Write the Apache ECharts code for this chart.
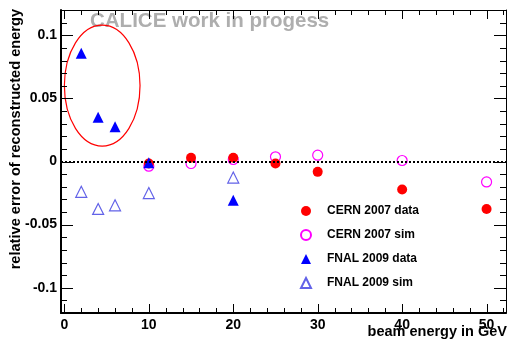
<!DOCTYPE html>
<html>
<head>
<meta charset="utf-8">
<script src="https://cdn.jsdelivr.net/npm/echarts@6/dist/echarts.min.js"></script>
<style>
  html, body { margin: 0; padding: 0; background: #fff; }
  #chart { width: 507px; height: 343px; }
</style>
</head>
<body>
<div id="chart"></div>
<script>
// beam energies (GeV)
var cernEnergy = [10, 15, 20, 25, 30, 40, 50];
var fnalEnergy = [2, 4, 6, 10, 20];

// relative error of reconstructed energy
var cernData = [-0.0016, 0.003, 0.003, -0.0016, -0.0082, -0.0222, -0.0376];
var cernSim = [-0.0037, -0.0016, 0.0016, 0.0037, 0.005, 0.0008, -0.0162];
var fnalData = [0.0857, 0.035, 0.0275, -0.001, -0.0307];
var fnalSim = [-0.024, -0.0376, -0.0347, -0.025, -0.0127];

// axis ranges, tick positions
var xRange = [-0.4, 52.3];
var yRange = [-0.12, 0.12];
var xMajor = [0, 10, 20, 30, 40, 50];
var xMinor = [2, 4, 6, 8, 12, 14, 16, 18, 22, 24, 26, 28, 32, 34, 36, 38, 42, 44, 46, 48, 52];
var yMajor = [-0.1, -0.05, 0, 0.05, 0.1];
var yMinor = [-0.12, -0.11, -0.09, -0.08, -0.07, -0.06, -0.04, -0.03, -0.02, -0.01,
              0.01, 0.02, 0.03, 0.04, 0.06, 0.07, 0.08, 0.09, 0.11, 0.12];

// highlighted region (data units): x0, x1, y0, y1
var ellipseBox = [0.0, 8.96, 0.0122, 0.108];

var names = ["CERN 2007 data", "CERN 2007 sim", "FNAL 2009 data", "FNAL 2009 sim"];

var FONT = "Liberation Sans, Arial, Helvetica, sans-serif";
var W = 507, H = 343;
var PLOT = { left: 61, right: 506, top: 10, bottom: 313 };

function pairs(xs, ys) {
  var out = [];
  for (var i = 0; i < xs.length; i++) out.push([xs[i], ys[i]]);
  return out;
}

// pixel of a value on the main frame (only used to line up the label grids)
function px(x) {
  return PLOT.left + (x - xRange[0]) / (xRange[1] - xRange[0]) * (PLOT.right - PLOT.left);
}
function py(y) {
  return PLOT.bottom - (y - yRange[0]) / (yRange[1] - yRange[0]) * (PLOT.bottom - PLOT.top);
}

var labelStyle = { color: "#000", fontFamily: FONT, fontWeight: "bold", fontSize: 14 };

function frameAxis(pos, range, lineW) {
  return {
    type: "value", gridIndex: 0, position: pos, min: range[0], max: range[1],
    axisLine: { show: true, onZero: false, lineStyle: { color: "#000", width: lineW } },
    axisTick: { show: false }, axisLabel: { show: false }, splitLine: { show: false }
  };
}
function labelAxis(grid, pos, ticks, margin) {
  return {
    type: "value", gridIndex: grid, position: pos,
    min: ticks[0], max: ticks[ticks.length - 1], interval: ticks[1] - ticks[0],
    axisLine: { show: false, onZero: false }, axisTick: { show: false },
    axisLabel: Object.assign({ show: true, margin: margin }, labelStyle),
    splitLine: { show: false }
  };
}
function hiddenAxis(grid) {
  return { type: "value", gridIndex: grid, show: false, min: 0, max: 1, axisLine: { onZero: false } };
}

var chart = echarts.init(document.getElementById("chart"));

var option = {
  animation: false,
  backgroundColor: "#fff",
  grid: [
    { left: PLOT.left, right: W - PLOT.right, top: PLOT.top, bottom: H - PLOT.bottom },
    { left: px(xMajor[0]), right: W - px(xMajor[xMajor.length - 1]), top: PLOT.top, bottom: H - PLOT.bottom },
    { left: PLOT.left, right: W - PLOT.right, top: py(yMajor[yMajor.length - 1]), bottom: H - py(yMajor[0]) }
  ],
  xAxis: [
    frameAxis("bottom", xRange, 2),
    frameAxis("top", xRange, 1),
    labelAxis(1, "bottom", xMajor, 5),
    hiddenAxis(2)
  ],
  yAxis: [
    frameAxis("left", yRange, 2),
    frameAxis("right", yRange, 1),
    hiddenAxis(1),
    labelAxis(2, "left", yMajor, 4)
  ],
  legend: {
    orient: "vertical",
    left: 300,
    top: 205,
    padding: 0,
    itemWidth: 10,
    itemHeight: 10,
    itemGap: 12,
    data: names,
    selectedMode: false,
    textStyle: { color: "#000", fontFamily: FONT, fontWeight: "bold", fontSize: 12,
                 padding: [0, 0, 0, 11] }
  },
  series: [
    {
      name: names[1], type: "scatter", symbol: "circle", symbolSize: 10,
      xAxisIndex: 0, yAxisIndex: 0,
      data: pairs(cernEnergy, cernSim),
      itemStyle: { color: "transparent", borderColor: "#ff00ff", borderWidth: 1.2, opacity: 1 },
      markLine: {
        silent: true, symbol: "none", label: { show: false },
        lineStyle: { color: "#000", width: 2, type: [2, 2] },
        data: [{ yAxis: 0 }]
      }
    },
    {
      name: names[0], type: "scatter", symbol: "circle", symbolSize: 10,
      xAxisIndex: 0, yAxisIndex: 0,
      data: pairs(cernEnergy, cernData),
      itemStyle: { color: "#ff0000", opacity: 1 }
    },
    {
      name: names[3], type: "scatter", symbol: "triangle", symbolSize: 11,
      xAxisIndex: 0, yAxisIndex: 0,
      data: pairs(fnalEnergy, fnalSim),
      itemStyle: { color: "transparent", borderColor: "#6262e8", borderWidth: 1.2, opacity: 1 }
    },
    {
      name: names[2], type: "scatter", symbol: "triangle", symbolSize: 11,
      xAxisIndex: 0, yAxisIndex: 0,
      data: pairs(fnalEnergy, fnalData),
      itemStyle: { color: "#0000ff", opacity: 1 }
    }
  ],
  graphic: [
    {
      id: "watermark", type: "text", x: 90, y: 21,
      style: { text: "CALICE work in progess", fill: "#aeaeae",
               font: "bold 20.5px " + FONT, align: "left", verticalAlign: "middle" }
    },
    {
      id: "ytitle", type: "text", x: 16, y: 9, rotation: Math.PI / 2,
      style: { text: "relative error of reconstructed energy", fill: "#000",
               font: "bold 14.6px " + FONT, align: "right", verticalAlign: "middle" }
    },
    {
      id: "xtitle", type: "text", x: 507, y: 332,
      style: { text: "beam energy in GeV", fill: "#000",
               font: "bold 14.5px " + FONT, align: "right", verticalAlign: "middle" }
    }
  ]
};

chart.setOption(option);

function toPx(v) {
  return chart.convertToPixel({ xAxisIndex: 0, yAxisIndex: 0 }, v);
}

// tick marks inside the frame on all four sides, placed through the axis scale
var extra = [];
function addTicks(values, dir, len) {
  values.forEach(function (v) {
    var a, b;
    if (dir === "x") {
      a = toPx([v, yRange[0]]);
      b = toPx([v, yRange[1]]);
      var x = Math.round(a[0]) + 0.5;
      extra.push([x, a[1], x, a[1] - len], [x, b[1], x, b[1] + len]);
    } else {
      a = toPx([xRange[0], v]);
      b = toPx([xRange[1], v]);
      var y = Math.round(a[1]) + 0.5;
      extra.push([a[0], y, a[0] + len, y], [b[0], y, b[0] - len, y]);
    }
  });
}
addTicks(xMajor, "x", 9);
addTicks(xMinor, "x", 5);
addTicks(yMajor, "y", 12);
addTicks(yMinor, "y", 6);

var tickEls = extra.map(function (l, i) {
  return {
    id: "tick" + i, type: "line", z: 10,
    shape: { x1: l[0], y1: l[1], x2: l[2], y2: l[3] },
    style: { stroke: "#000", lineWidth: 1 }
  };
});

// annotation ellipse
var p0 = toPx([ellipseBox[0], ellipseBox[2]]);
var p1 = toPx([ellipseBox[1], ellipseBox[3]]);
chart.setOption({
  graphic: tickEls.concat([{
    id: "ellipse", type: "ellipse",
    shape: {
      cx: (p0[0] + p1[0]) / 2, cy: (p0[1] + p1[1]) / 2,
      rx: Math.abs(p1[0] - p0[0]) / 2, ry: Math.abs(p1[1] - p0[1]) / 2
    },
    style: { fill: "none", stroke: "#ff0000", lineWidth: 1.2 }
  }])
});
</script>
</body>
</html>
